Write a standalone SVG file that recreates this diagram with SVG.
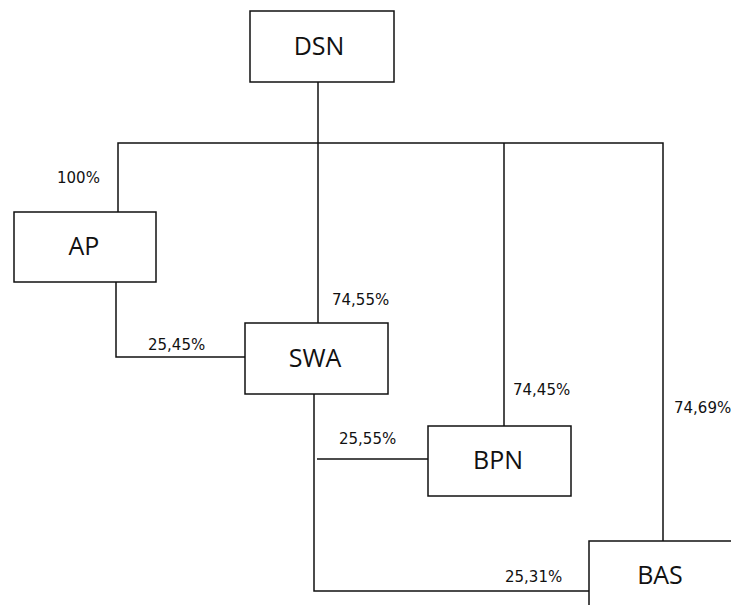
<svg xmlns="http://www.w3.org/2000/svg" width="731" height="605" viewBox="0 0 731 605">
<style>
.box{fill:#fff;stroke:#111;stroke-width:1.5}
.ln{fill:none;stroke:#111;stroke-width:1.5}
.nt{font-family:"Open Sans","DejaVu Sans",sans-serif;font-size:25px;fill:#111;text-anchor:middle}
.pl{font-family:"DejaVu Sans","Liberation Sans",sans-serif;font-size:15px;fill:#111}
</style>
<rect width="731" height="605" fill="#fff"/>
<g id="connectors">
<polyline class="ln" points="318,82 318,323"/>
<polyline class="ln" points="118,212 118,143 663,143 663,541"/>
<polyline class="ln" points="504,143 504,426"/>
<polyline class="ln" points="116,282 116,357 245,357"/>
<polyline class="ln" points="314,394 314,591 589,591"/>
<polyline class="ln" points="317,459 428,459"/>
</g>
<g id="labels">
<text class="pl" x="57" y="183">100%</text>
<text class="pl" x="148" y="350">25,45%</text>
<text class="pl" x="332" y="305">74,55%</text>
<text class="pl" x="513" y="395">74,45%</text>
<text class="pl" x="674" y="413">74,69%</text>
<text class="pl" x="339" y="444">25,55%</text>
<text class="pl" x="505" y="582">25,31%</text>
</g>
<g id="DSN"><rect class="box" x="250" y="11" width="144" height="71"/><text class="nt" x="319" y="55">DSN</text></g>
<g id="AP"><rect class="box" x="14" y="212" width="142" height="70"/><text class="nt" x="84" y="255">AP</text></g>
<g id="SWA"><rect class="box" x="245" y="323" width="143" height="71"/><text class="nt" x="315" y="367">SWA</text></g>
<g id="BPN"><rect class="box" x="428" y="426" width="143" height="70"/><text class="nt" x="498" y="469">BPN</text></g>
<g id="BAS"><rect class="box" x="589" y="541" width="160" height="80"/><text class="nt" x="660" y="584">BAS</text></g>
</svg>
